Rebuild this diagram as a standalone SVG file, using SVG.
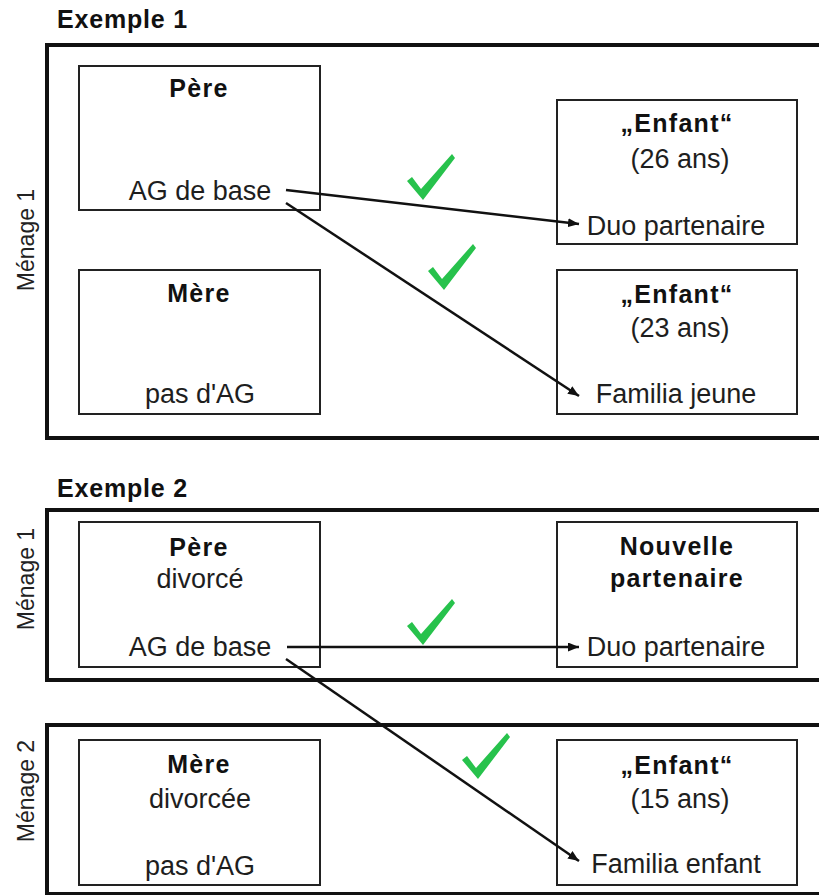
<svg xmlns="http://www.w3.org/2000/svg" width="819" height="895" viewBox="0 0 819 895">
<style>
.frame{fill:none;stroke:#111;stroke-width:4}
.box{fill:#fff;stroke:#222;stroke-width:2}
.t{font-family:"Liberation Sans",Arial,sans-serif;font-size:27px;fill:#1e1e1e;text-anchor:middle}
.b{font-family:"Liberation Sans",Arial,sans-serif;font-size:25px;font-weight:bold;fill:#111;text-anchor:middle;letter-spacing:1.3px}
.title{font-family:"Liberation Sans",Arial,sans-serif;font-size:25px;font-weight:bold;fill:#111;letter-spacing:0.8px}
.side{font-family:"Liberation Sans",Arial,sans-serif;font-size:23px;fill:#222;text-anchor:middle}
.conn{fill:none;stroke:#111;stroke-width:2.5;marker-end:url(#arr)}
.tick{fill:#27c24c}
</style>
<defs>
<marker id="arr" markerUnits="userSpaceOnUse" markerWidth="12" markerHeight="10" refX="11" refY="4.5" orient="auto">
<path d="M0,0 L11,4.5 L0,9 z" fill="#111"/>
</marker>
<path id="chk" d="M-15,-17 L-10,-21 L-1,-9 L30,-44 L33,-40 L1,2 z"/>
</defs>
<rect width="819" height="895" fill="#fff"/>

<g id="titles">
<text class="title" x="57" y="28">Exemple 1</text>
<text class="title" x="57" y="497">Exemple 2</text>
</g>

<g id="frames">
<rect class="frame" x="47" y="45" width="800" height="393"/>
<rect class="frame" x="47" y="510" width="800" height="170"/>
<rect class="frame" x="47" y="725" width="800" height="169"/>
<text class="side" transform="translate(34,240) rotate(-90)">Ménage 1</text>
<text class="side" transform="translate(34,579) rotate(-90)">Ménage 1</text>
<text class="side" transform="translate(34,791) rotate(-90)">Ménage 2</text>
</g>

<g id="ex1-pere">
<rect class="box" x="79" y="66" width="241" height="144"/>
<text class="b" x="199" y="97">Père</text>
<text class="t" x="200" y="200">AG de base</text>
</g>
<g id="ex1-mere">
<rect class="box" x="79" y="270" width="241" height="144"/>
<text class="b" x="199" y="302">Mère</text>
<text class="t" x="200" y="403">pas d'AG</text>
</g>
<g id="ex1-enfant26">
<rect class="box" x="557" y="100" width="240" height="144"/>
<text class="b" x="677" y="132">„Enfant“</text>
<text class="t" x="680" y="168">(26 ans)</text>
<text class="t" x="676" y="235">Duo partenaire</text>
</g>
<g id="ex1-enfant23">
<rect class="box" x="557" y="270" width="240" height="144"/>
<text class="b" x="677" y="303">„Enfant“</text>
<text class="t" x="680" y="337">(23 ans)</text>
<text class="t" x="676" y="403">Familia jeune</text>
</g>

<g id="ex2-pere">
<rect class="box" x="79" y="522" width="241" height="145"/>
<text class="b" x="199" y="556">Père</text>
<text class="t" x="200" y="588">divorcé</text>
<text class="t" x="200" y="656">AG de base</text>
</g>
<g id="ex2-partenaire">
<rect class="box" x="557" y="522" width="240" height="145"/>
<text class="b" x="677" y="555">Nouvelle</text>
<text class="b" x="677" y="587">partenaire</text>
<text class="t" x="676" y="656">Duo partenaire</text>
</g>
<g id="ex2-mere">
<rect class="box" x="79" y="740" width="241" height="145"/>
<text class="b" x="199" y="773">Mère</text>
<text class="t" x="200" y="808">divorcée</text>
<text class="t" x="200" y="875">pas d'AG</text>
</g>
<g id="ex2-enfant15">
<rect class="box" x="557" y="740" width="240" height="145"/>
<text class="b" x="677" y="774">„Enfant“</text>
<text class="t" x="680" y="808">(15 ans)</text>
<text class="t" x="676" y="873">Familia enfant</text>
</g>

<g id="connectors">
<line class="conn" x1="286" y1="190" x2="579" y2="224"/>
<line class="conn" x1="286" y1="203" x2="579" y2="396"/>
<line class="conn" x1="287" y1="647" x2="579" y2="647"/>
<line class="conn" x1="286" y1="659" x2="579" y2="861"/>
</g>

<g id="checks">
<use href="#chk" class="tick" x="422" y="198"/>
<use href="#chk" class="tick" x="443" y="288"/>
<use href="#chk" class="tick" x="422" y="643"/>
<use href="#chk" class="tick" x="477" y="777"/>
</g>
</svg>
